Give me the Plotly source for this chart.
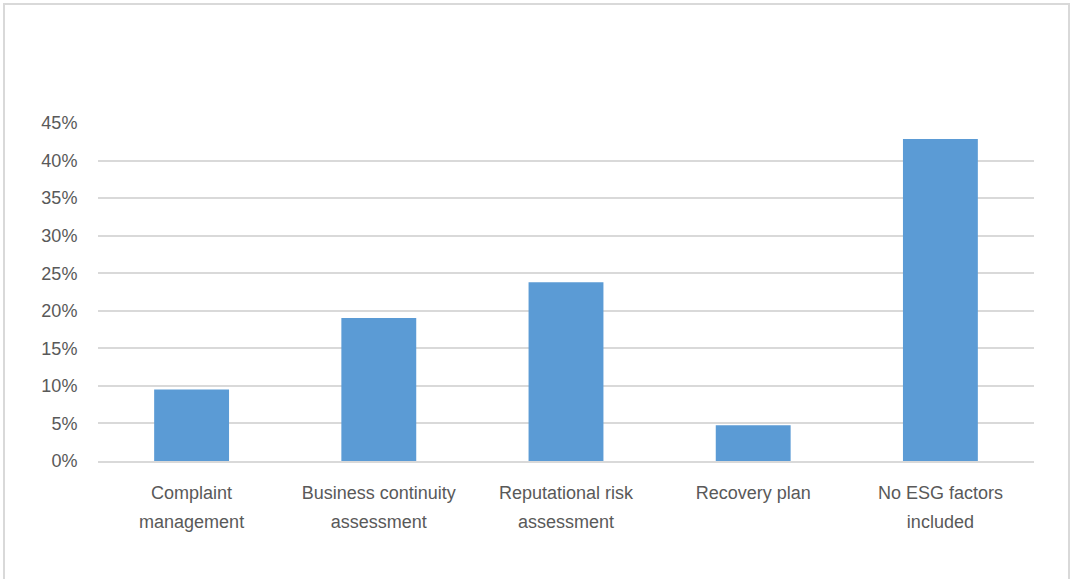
import plotly.graph_objects as go

label_lines = [["Complaint", "management"], ["Business continuity", "assessment"],
               ["Reputational risk", "assessment"], ["Recovery plan"],
               ["No ESG factors", "included"]]
values = [2/21, 4/21, 5/21, 1/21, 9/21]
tick_vals = [0, 0.05, 0.10, 0.15, 0.20, 0.25, 0.30, 0.35, 0.40, 0.45]
tick_text = ["0%", "5%", "10%", "15%", "20%", "25%", "30%", "35%", "40%", "45%"]

categories = ["<br>".join(l) for l in label_lines]
tick_labels = ["<br>".join('<span style="font-size:18px">%s</span>' % s for s in l)
               for l in label_lines]

W, H = 1073, 579
ml, mr, mt, mb = 98, 39, 123, 118
pw, ph = W - ml - mr, H - mt - mb

fig = go.Figure(go.Bar(x=categories, y=values, marker_color="#5b9bd5",
                       marker_line_width=0, width=0.4))

font_family = "Liberation Sans Narrow, Arial Narrow, sans-serif"
fig.update_layout(
    width=W, height=H,
    margin=dict(l=ml, r=mr, t=mt, b=mb, pad=0),
    paper_bgcolor="white", plot_bgcolor="white",
    showlegend=False,
    font=dict(family=font_family, size=18, color="#595959"),
    xaxis=dict(showgrid=False, showline=True, linecolor="#d9d9d9", linewidth=2,
               tickvals=categories, ticktext=tick_labels,
               ticks="outside", ticklen=10, tickcolor="rgba(0,0,0,0)",
               tickfont=dict(size=22, color="#595959")),
    yaxis=dict(range=[0, 0.45], tickvals=tick_vals, ticktext=tick_text,
               showgrid=True, gridcolor="#d9d9d9", gridwidth=1.5,
               zeroline=False, showline=False,
               ticks="outside", ticklen=16, tickcolor="rgba(0,0,0,0)",
               tickfont=dict(size=18, color="#595959")),
    shapes=[dict(type="rect", xref="paper", yref="paper",
                 x0=(4 - ml) / pw, x1=(1069 - ml) / pw,
                 y0=(H - mb - 590) / ph, y1=(H - mb - 4) / ph,
                 line=dict(color="#d9d9d9", width=2), fillcolor="rgba(0,0,0,0)",
                 layer="below")],
)

fig.write_html("out.html")
